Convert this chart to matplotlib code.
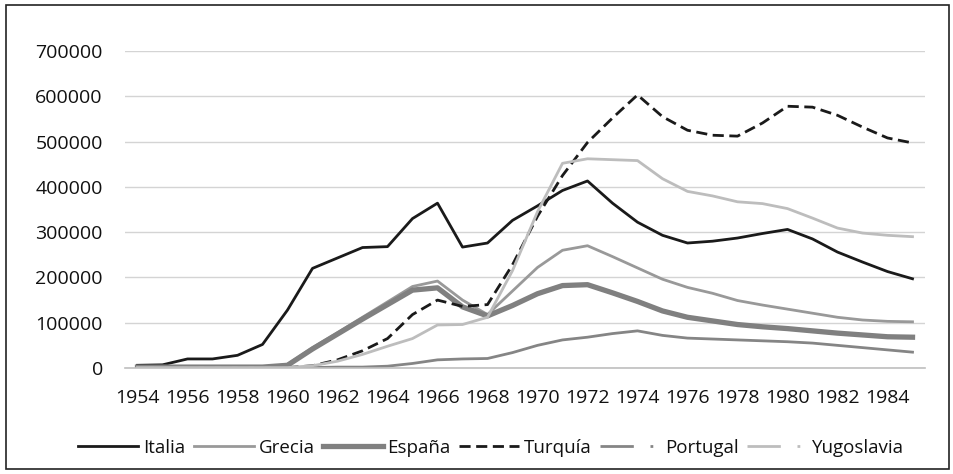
import matplotlib
matplotlib.use("Agg")
import matplotlib.pyplot as plt
from matplotlib.lines import Line2D
from matplotlib.patches import Rectangle

years = list(range(1954, 1986))
tick_years = list(range(1954, 1985, 2))

italia = [6000, 7000, 20000, 20000, 28000, 52000, 128000, 220000, 243000, 266000,
          268000, 330000, 364000, 267000, 276000, 326000, 358000, 392000, 413000, 364000,
          322000, 293000, 276000, 280000, 287000, 297000, 306000, 285000, 256000, 234000,
          213000, 197000]
grecia = [1000, 1000, 1000, 1000, 1000, 1000, 8000, 45000, 78000, 112000,
          146000, 180000, 192000, 150000, 118000, 170000, 222000, 260000, 270000, 246000,
          221000, 196000, 178000, 165000, 149000, 139000, 130000, 121000, 112000, 106000,
          103000, 102000]
espana = [2000, 2000, 2000, 2000, 2000, 2000, 6000, 42000, 75000, 108000,
          140000, 172000, 177000, 135000, 115000, 138000, 164000, 182000, 184000, 166000,
          147000, 126000, 112000, 104000, 96000, 91000, 87000, 82000, 77000, 73000,
          69000, 68000]
turquia = [1000, 1000, 1000, 1000, 1000, 1000, 1000, 5000, 18000, 38000,
           65000, 118000, 150000, 136000, 140000, 228000, 335000, 425000, 498000, 552000,
           603000, 555000, 525000, 514000, 512000, 541000, 578000, 576000, 558000, 532000,
           508000, 497000]
portugal = [1000, 1000, 1000, 1000, 1000, 1000, 1000, 1000, 2000, 2000,
            4000, 10000, 18000, 20000, 21000, 34000, 50000, 62000, 68000, 76000,
            82000, 72000, 66000, 64000, 62000, 60000, 58000, 55000, 50000, 45000,
            40000, 35000]
yugoslavia = [1000, 1000, 1000, 1000, 1000, 1000, 1000, 5000, 15000, 30000,
              48000, 65000, 95000, 96000, 112000, 215000, 345000, 452000, 462000, 460000,
              458000, 418000, 390000, 380000, 367000, 363000, 352000, 331000, 309000, 298000,
              293000, 290000]

plt.rcParams['font.family'] = ['Open Sans', 'DejaVu Sans']

fig = plt.figure(figsize=(9.54, 4.74), dpi=100)
ax = fig.add_axes([125 / 954, 1 - 368 / 474, 800 / 954, 317 / 474])

x = list(range(len(years)))
ax.plot(x, italia, color='#1a1a1a', lw=2.0, solid_joinstyle='round', label='Italia')
ax.plot(x, grecia, color='#999999', lw=2.0, solid_joinstyle='round', label='Grecia')
ax.plot(x, espana, color='#808080', lw=3.8, solid_joinstyle='round', label='España')
ax.plot(x, turquia, color='#1a1a1a', lw=2.0, dashes=(4, 2), label='Turquía')
ax.plot(x, portugal, color='#858585', lw=2.0, solid_joinstyle='round', label='Portugal')
ax.plot(x, yugoslavia, color='#bdbdbd', lw=2.0, solid_joinstyle='round', label='Yugoslavia')

ax.set_xlim(-0.5, len(years) - 0.5)
ax.set_ylim(0, 700000)
ax.set_yticks(range(0, 700001, 100000))
ax.set_yticklabels([str(v) for v in range(0, 700001, 100000)])
ax.set_xticks([years.index(y) for y in tick_years])
ax.set_xticklabels([str(y) for y in tick_years])
ax.tick_params(axis='both', length=0, labelsize=14, colors='#111111')
ax.tick_params(axis='y', pad=16)
ax.tick_params(axis='x', pad=15)
ax.grid(axis='y', color='#d4d4d4', lw=1)
ax.set_axisbelow(True)
for s in ['top', 'right', 'left']:
    ax.spines[s].set_visible(False)
ax.spines['bottom'].set_color('#bfbfbf')
ax.spines['bottom'].set_linewidth(1.2)

handles = [
    Line2D([], [], color='#1a1a1a', lw=2.0),
    Line2D([], [], color='#999999', lw=2.0),
    Line2D([], [], color='#808080', lw=3.8),
    Line2D([], [], color='#1a1a1a', lw=2.0, dashes=(4, 2)),
    Line2D([], [], color='#858585', lw=2.0, dashes=(12, 6, 1, 20)),
    Line2D([], [], color='#bdbdbd', lw=2.0, dashes=(12, 6, 1, 20)),
]
labels = ['Italia', 'Grecia', 'España', 'Turquía', 'Portugal', 'Yugoslavia']
fig.legend(handles, labels, loc='center', bbox_to_anchor=(491 / 954, 1 - 448 / 474),
           ncol=6, frameon=False, fontsize=13.5, handlelength=3.2, handletextpad=0.25,
           columnspacing=0.45, labelcolor='#111111')

fig.patches.append(Rectangle((6 / 954, 5 / 474), 943 / 954, 464 / 474, transform=fig.transFigure,
                             fill=False, edgecolor='#222222', lw=1.2))

fig.savefig('out.png', dpi=100)
